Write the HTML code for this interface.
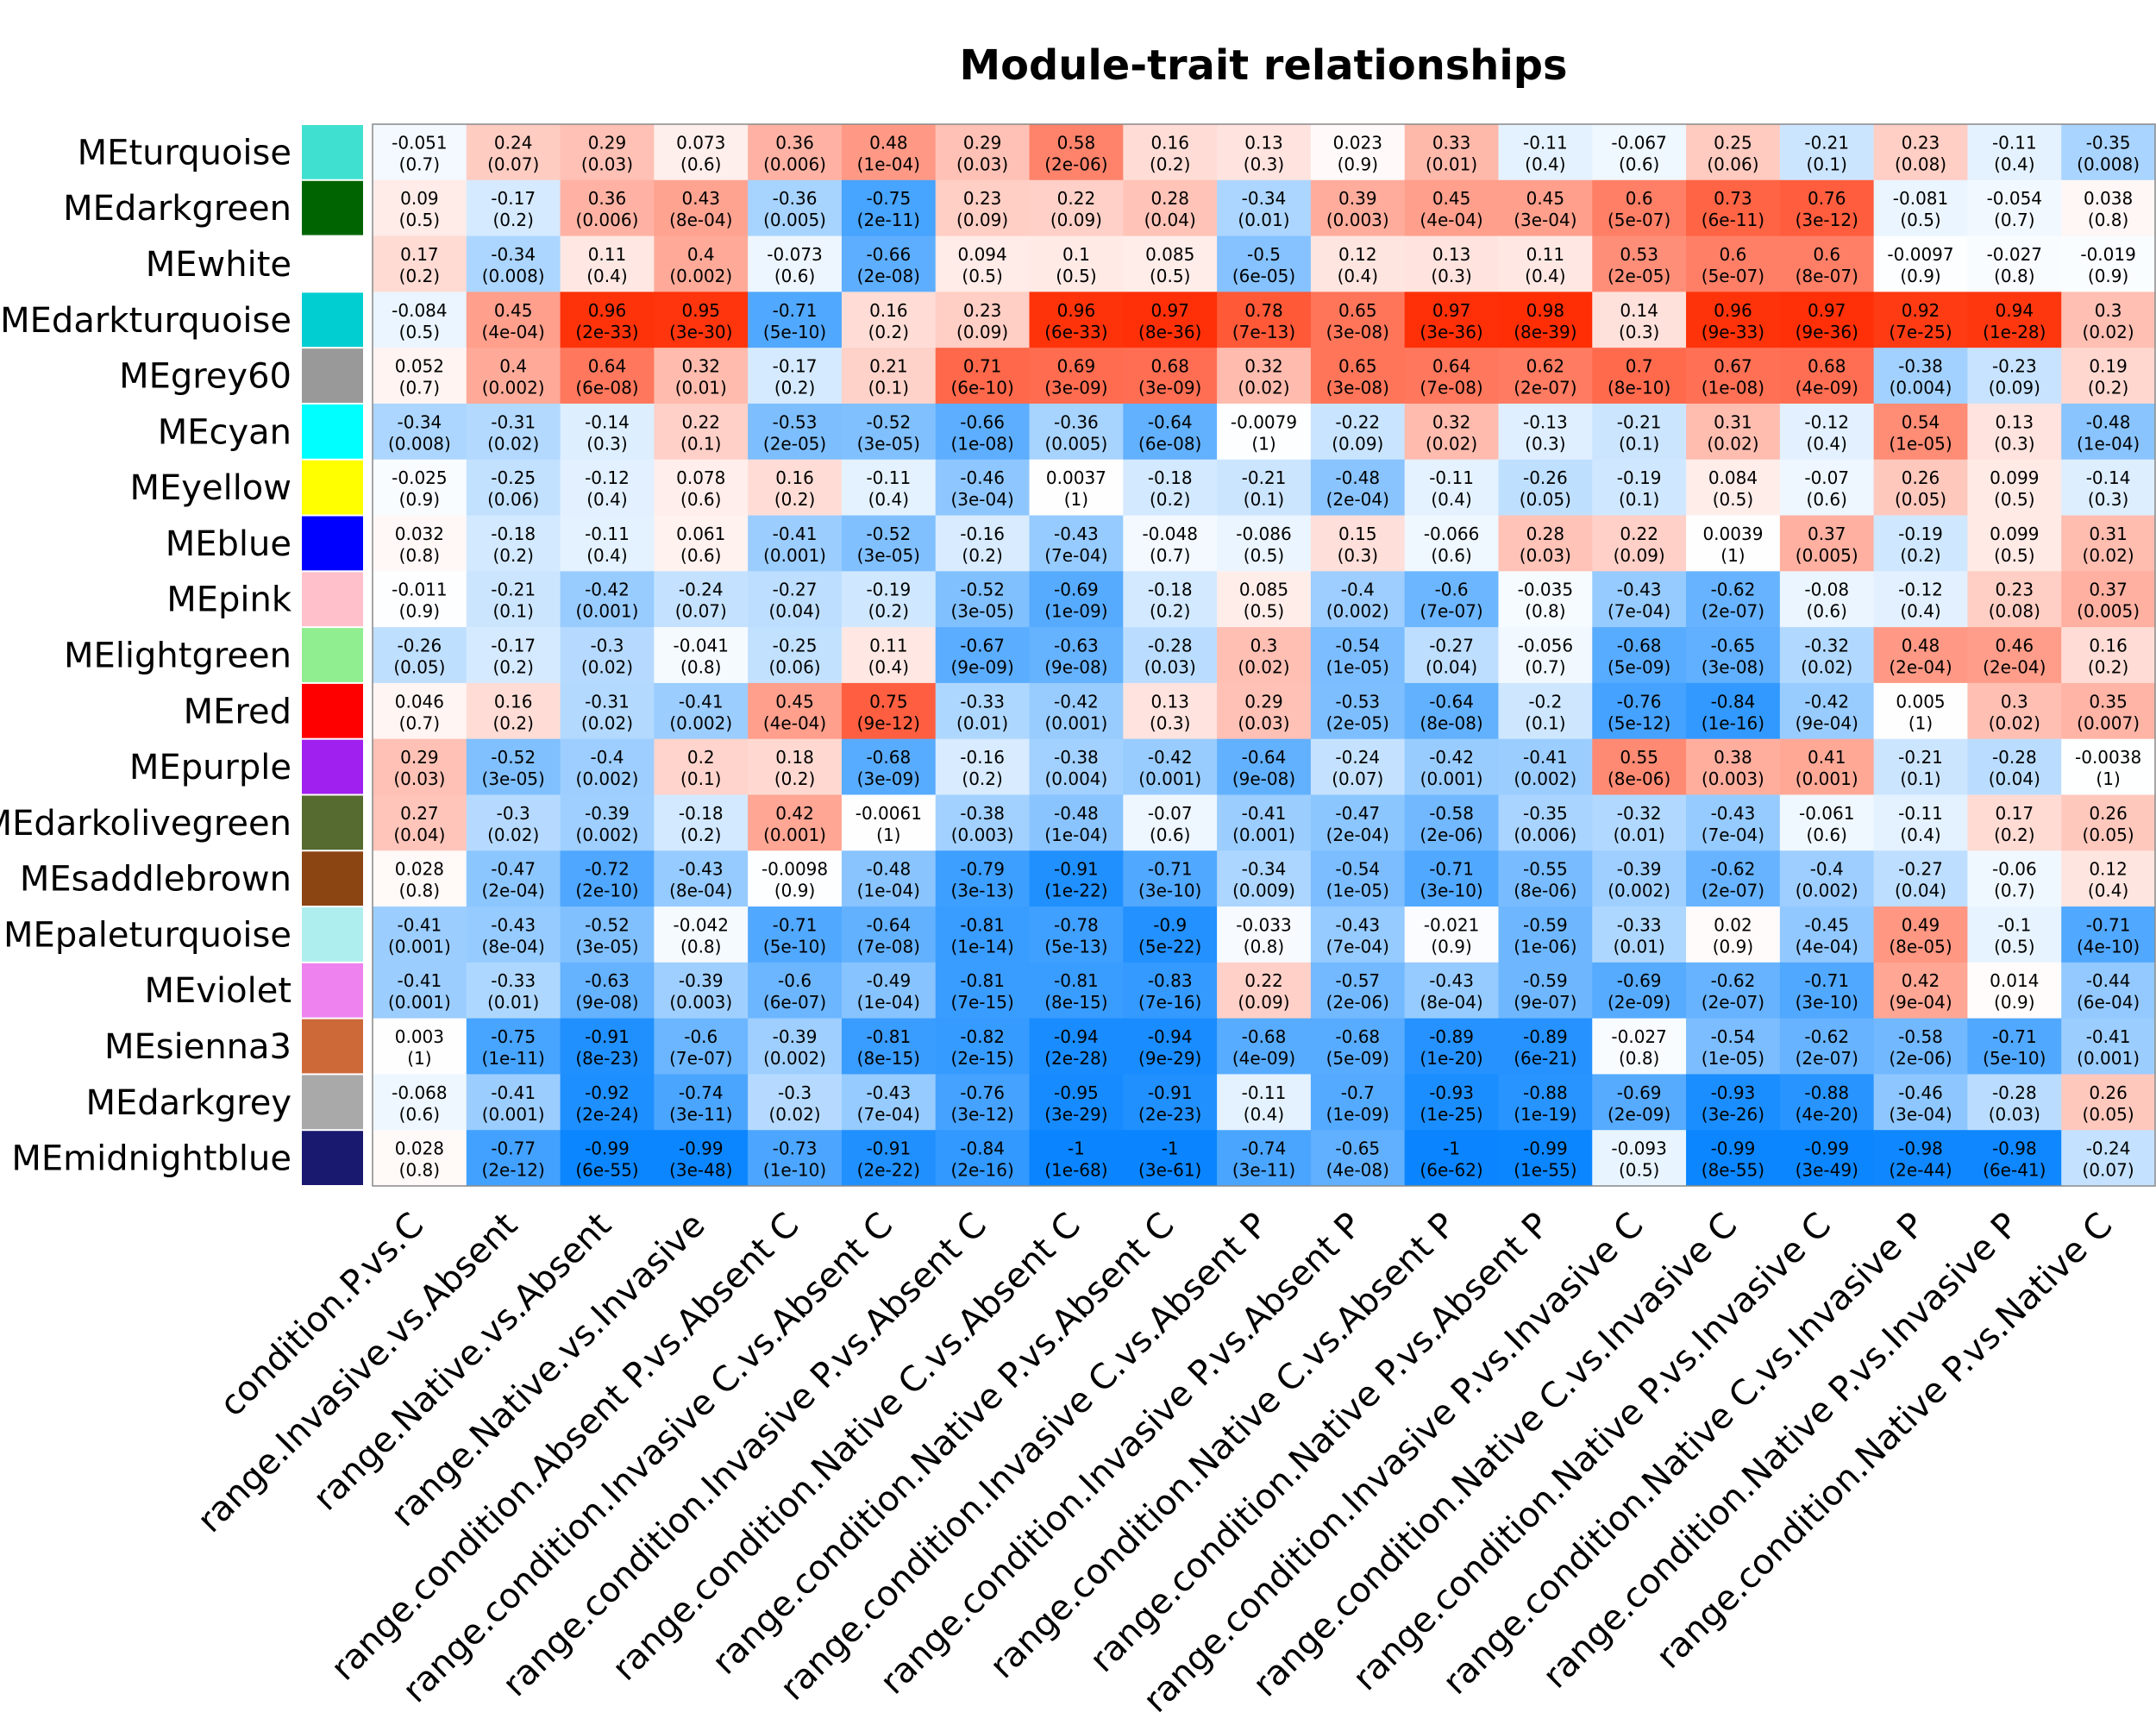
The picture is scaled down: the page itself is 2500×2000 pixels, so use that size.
<!DOCTYPE html>
<html><head><meta charset="utf-8"><style>
html,body{margin:0;padding:0;background:#fff;}
svg{display:block;font-family:"DejaVu Sans","Liberation Sans",sans-serif;}
</style></head><body>
<svg id="chart" width="2500" height="2000" viewBox="0 0 2500 2000" xmlns="http://www.w3.org/2000/svg">
<text x="1465" y="92" text-anchor="middle" font-weight="bold" font-size="48" textLength="705" lengthAdjust="spacingAndGlyphs">Module-trait relationships</text>
<g id="swatches"></g><g id="cells"></g><g id="rowlabels"></g><g id="collabels"></g>
<rect x="432" y="144" width="2067" height="1231" fill="none" stroke="#888" stroke-width="1.5"/>
</svg>
<script>
const modules = ["MEturquoise","MEdarkgreen","MEwhite","MEdarkturquoise","MEgrey60","MEcyan","MEyellow","MEblue","MEpink","MElightgreen","MEred","MEpurple","MEdarkolivegreen","MEsaddlebrown","MEpaleturquoise","MEviolet","MEsienna3","MEdarkgrey","MEmidnightblue"];
const moduleColors = ["#40E0D0","#006400","#FFFFFF","#00CED1","#999999","#00FFFF","#FFFF00","#0000FF","#FFC0CB","#90EE90","#FF0000","#A020F0","#556B2F","#8B4513","#AFEEEE","#EE82EE","#CD6839","#A9A9A9","#191970"];
const traits = ["condition.P.vs.C","range.Invasive.vs.Absent","range.Native.vs.Absent","range.Native.vs.Invasive","range.condition.Absent P.vs.Absent C","range.condition.Invasive C.vs.Absent C","range.condition.Invasive P.vs.Absent C","range.condition.Native C.vs.Absent C","range.condition.Native P.vs.Absent C","range.condition.Invasive C.vs.Absent P","range.condition.Invasive P.vs.Absent P","range.condition.Native C.vs.Absent P","range.condition.Native P.vs.Absent P","range.condition.Invasive P.vs.Invasive C","range.condition.Native C.vs.Invasive C","range.condition.Native P.vs.Invasive C","range.condition.Native C.vs.Invasive P","range.condition.Native P.vs.Invasive P","range.condition.Native P.vs.Native C"];
const corr = [
["-0.051","0.24","0.29","0.073","0.36","0.48","0.29","0.58","0.16","0.13","0.023","0.33","-0.11","-0.067","0.25","-0.21","0.23","-0.11","-0.35"],
["0.09","-0.17","0.36","0.43","-0.36","-0.75","0.23","0.22","0.28","-0.34","0.39","0.45","0.45","0.6","0.73","0.76","-0.081","-0.054","0.038"],
["0.17","-0.34","0.11","0.4","-0.073","-0.66","0.094","0.1","0.085","-0.5","0.12","0.13","0.11","0.53","0.6","0.6","-0.0097","-0.027","-0.019"],
["-0.084","0.45","0.96","0.95","-0.71","0.16","0.23","0.96","0.97","0.78","0.65","0.97","0.98","0.14","0.96","0.97","0.92","0.94","0.3"],
["0.052","0.4","0.64","0.32","-0.17","0.21","0.71","0.69","0.68","0.32","0.65","0.64","0.62","0.7","0.67","0.68","-0.38","-0.23","0.19"],
["-0.34","-0.31","-0.14","0.22","-0.53","-0.52","-0.66","-0.36","-0.64","-0.0079","-0.22","0.32","-0.13","-0.21","0.31","-0.12","0.54","0.13","-0.48"],
["-0.025","-0.25","-0.12","0.078","0.16","-0.11","-0.46","0.0037","-0.18","-0.21","-0.48","-0.11","-0.26","-0.19","0.084","-0.07","0.26","0.099","-0.14"],
["0.032","-0.18","-0.11","0.061","-0.41","-0.52","-0.16","-0.43","-0.048","-0.086","0.15","-0.066","0.28","0.22","0.0039","0.37","-0.19","0.099","0.31"],
["-0.011","-0.21","-0.42","-0.24","-0.27","-0.19","-0.52","-0.69","-0.18","0.085","-0.4","-0.6","-0.035","-0.43","-0.62","-0.08","-0.12","0.23","0.37"],
["-0.26","-0.17","-0.3","-0.041","-0.25","0.11","-0.67","-0.63","-0.28","0.3","-0.54","-0.27","-0.056","-0.68","-0.65","-0.32","0.48","0.46","0.16"],
["0.046","0.16","-0.31","-0.41","0.45","0.75","-0.33","-0.42","0.13","0.29","-0.53","-0.64","-0.2","-0.76","-0.84","-0.42","0.005","0.3","0.35"],
["0.29","-0.52","-0.4","0.2","0.18","-0.68","-0.16","-0.38","-0.42","-0.64","-0.24","-0.42","-0.41","0.55","0.38","0.41","-0.21","-0.28","-0.0038"],
["0.27","-0.3","-0.39","-0.18","0.42","-0.0061","-0.38","-0.48","-0.07","-0.41","-0.47","-0.58","-0.35","-0.32","-0.43","-0.061","-0.11","0.17","0.26"],
["0.028","-0.47","-0.72","-0.43","-0.0098","-0.48","-0.79","-0.91","-0.71","-0.34","-0.54","-0.71","-0.55","-0.39","-0.62","-0.4","-0.27","-0.06","0.12"],
["-0.41","-0.43","-0.52","-0.042","-0.71","-0.64","-0.81","-0.78","-0.9","-0.033","-0.43","-0.021","-0.59","-0.33","0.02","-0.45","0.49","-0.1","-0.71"],
["-0.41","-0.33","-0.63","-0.39","-0.6","-0.49","-0.81","-0.81","-0.83","0.22","-0.57","-0.43","-0.59","-0.69","-0.62","-0.71","0.42","0.014","-0.44"],
["0.003","-0.75","-0.91","-0.6","-0.39","-0.81","-0.82","-0.94","-0.94","-0.68","-0.68","-0.89","-0.89","-0.027","-0.54","-0.62","-0.58","-0.71","-0.41"],
["-0.068","-0.41","-0.92","-0.74","-0.3","-0.43","-0.76","-0.95","-0.91","-0.11","-0.7","-0.93","-0.88","-0.69","-0.93","-0.88","-0.46","-0.28","0.26"],
["0.028","-0.77","-0.99","-0.99","-0.73","-0.91","-0.84","-1","-1","-0.74","-0.65","-1","-0.99","-0.093","-0.99","-0.99","-0.98","-0.98","-0.24"]
];
const pvals = [
["0.7","0.07","0.03","0.6","0.006","1e-04","0.03","2e-06","0.2","0.3","0.9","0.01","0.4","0.6","0.06","0.1","0.08","0.4","0.008"],
["0.5","0.2","0.006","8e-04","0.005","2e-11","0.09","0.09","0.04","0.01","0.003","4e-04","3e-04","5e-07","6e-11","3e-12","0.5","0.7","0.8"],
["0.2","0.008","0.4","0.002","0.6","2e-08","0.5","0.5","0.5","6e-05","0.4","0.3","0.4","2e-05","5e-07","8e-07","0.9","0.8","0.9"],
["0.5","4e-04","2e-33","3e-30","5e-10","0.2","0.09","6e-33","8e-36","7e-13","3e-08","3e-36","8e-39","0.3","9e-33","9e-36","7e-25","1e-28","0.02"],
["0.7","0.002","6e-08","0.01","0.2","0.1","6e-10","3e-09","3e-09","0.02","3e-08","7e-08","2e-07","8e-10","1e-08","4e-09","0.004","0.09","0.2"],
["0.008","0.02","0.3","0.1","2e-05","3e-05","1e-08","0.005","6e-08","1","0.09","0.02","0.3","0.1","0.02","0.4","1e-05","0.3","1e-04"],
["0.9","0.06","0.4","0.6","0.2","0.4","3e-04","1","0.2","0.1","2e-04","0.4","0.05","0.1","0.5","0.6","0.05","0.5","0.3"],
["0.8","0.2","0.4","0.6","0.001","3e-05","0.2","7e-04","0.7","0.5","0.3","0.6","0.03","0.09","1","0.005","0.2","0.5","0.02"],
["0.9","0.1","0.001","0.07","0.04","0.2","3e-05","1e-09","0.2","0.5","0.002","7e-07","0.8","7e-04","2e-07","0.6","0.4","0.08","0.005"],
["0.05","0.2","0.02","0.8","0.06","0.4","9e-09","9e-08","0.03","0.02","1e-05","0.04","0.7","5e-09","3e-08","0.02","2e-04","2e-04","0.2"],
["0.7","0.2","0.02","0.002","4e-04","9e-12","0.01","0.001","0.3","0.03","2e-05","8e-08","0.1","5e-12","1e-16","9e-04","1","0.02","0.007"],
["0.03","3e-05","0.002","0.1","0.2","3e-09","0.2","0.004","0.001","9e-08","0.07","0.001","0.002","8e-06","0.003","0.001","0.1","0.04","1"],
["0.04","0.02","0.002","0.2","0.001","1","0.003","1e-04","0.6","0.001","2e-04","2e-06","0.006","0.01","7e-04","0.6","0.4","0.2","0.05"],
["0.8","2e-04","2e-10","8e-04","0.9","1e-04","3e-13","1e-22","3e-10","0.009","1e-05","3e-10","8e-06","0.002","2e-07","0.002","0.04","0.7","0.4"],
["0.001","8e-04","3e-05","0.8","5e-10","7e-08","1e-14","5e-13","5e-22","0.8","7e-04","0.9","1e-06","0.01","0.9","4e-04","8e-05","0.5","4e-10"],
["0.001","0.01","9e-08","0.003","6e-07","1e-04","7e-15","8e-15","7e-16","0.09","2e-06","8e-04","9e-07","2e-09","2e-07","3e-10","9e-04","0.9","6e-04"],
["1","1e-11","8e-23","7e-07","0.002","8e-15","2e-15","2e-28","9e-29","4e-09","5e-09","1e-20","6e-21","0.8","1e-05","2e-07","2e-06","5e-10","0.001"],
["0.6","0.001","2e-24","3e-11","0.02","7e-04","3e-12","3e-29","2e-23","0.4","1e-09","1e-25","1e-19","2e-09","3e-26","4e-20","3e-04","0.03","0.05"],
["0.8","2e-12","6e-55","3e-48","1e-10","2e-22","2e-16","1e-68","3e-61","3e-11","4e-08","6e-62","1e-55","0.5","8e-55","3e-49","2e-44","6e-41","0.07"]
];
const NS="http://www.w3.org/2000/svg";
const X0=432, Y0=144, W=2067, H=1231;
const cw=W/traits.length, rh=H/modules.length;
function xPos(j){return X0+j*cw;}
function yPos(i){return Y0+i*rh;}
function colorOf(v){
  v=Math.max(-1,Math.min(1,v));
  let r,g,b;
  if(v>=0){r=255;g=255-v*(255-42);b=255-v*255;}
  else{const a=-v;r=255-a*(255-10);g=255-a*(255-133);b=255;}
  return `rgb(${Math.round(r)},${Math.round(g)},${Math.round(b)})`;
}
function mk(tag,attrs,parent){const e=document.createElementNS(NS,tag);for(const k in attrs)e.setAttribute(k,attrs[k]);parent.appendChild(e);return e;}
const gS=document.getElementById('swatches'),gC=document.getElementById('cells'),gR=document.getElementById('rowlabels'),gL=document.getElementById('collabels');
modules.forEach((m,i)=>{
  const s=mk('rect',{x:350,y:yPos(i)+1,width:71,height:rh-2,fill:moduleColors[i]},gS);
  
  
  const t=mk('text',{x:338,y:yPos(i)+rh/2+14,'text-anchor':'end','font-size':40},gR);
  t.textContent=m;
  
  
  traits.forEach((tr,j)=>{
    const v=parseFloat(corr[i][j]);
    const c=mk('rect',{x:xPos(j),y:yPos(i),width:cw+0.5,height:rh+0.5,fill:colorOf(v)},gC);
    
    
    const tx=mk('text',{x:xPos(j)+cw/2,'text-anchor':'middle','font-size':20},gC);
    
    
    const a=mk('tspan',{x:xPos(j)+cw/2,y:yPos(i)+rh/2-4},tx);a.textContent=corr[i][j];
    const b=mk('tspan',{x:xPos(j)+cw/2,y:yPos(i)+rh/2+21},tx);b.textContent='('+pvals[i][j]+')';
  });
});
traits.forEach((tr,j)=>{
  const cx=xPos(j)+cw/2-13, cy=Y0+H+28;
  const t=mk('text',{x:cx,y:cy,'text-anchor':'end','font-size':40,transform:`rotate(-45 ${cx} ${cy})`,dy:'0.7em'},gL);
  t.textContent=tr;
  
  
});
</script>
</body></html>
